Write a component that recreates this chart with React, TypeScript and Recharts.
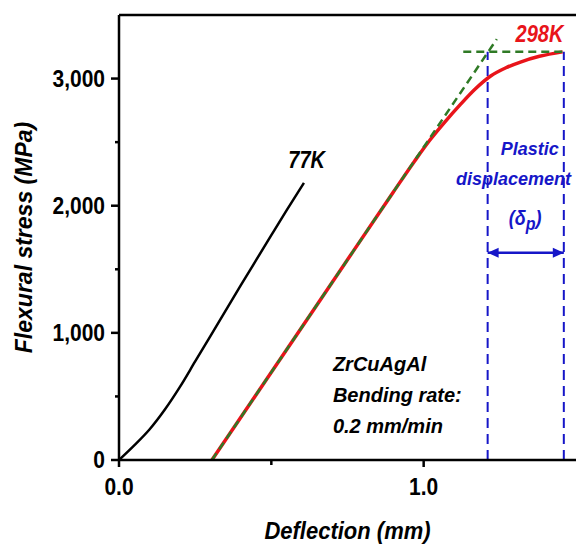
import { LineChart, Line, XAxis, YAxis, ReferenceLine, ReferenceDot } from 'recharts'

const FONT = '"Liberation Sans", Arial, Helvetica, sans-serif'
const RED = '#e8141a'
const GREEN = '#2f7a25'
const BLUE = '#1616c8'

// deflection (mm) vs flexural stress (MPa)
const curve77K = [
  { x: 0, y: 0 },
  { x: 0.05, y: 115 },
  { x: 0.1, y: 240 },
  { x: 0.15, y: 395 },
  { x: 0.2, y: 575 },
  { x: 0.25, y: 775 },
  { x: 0.3, y: 975 },
  { x: 0.35, y: 1175 },
  { x: 0.4, y: 1375 },
  { x: 0.45, y: 1572 },
  { x: 0.5, y: 1768 },
  { x: 0.55, y: 1963 },
  { x: 0.607, y: 2180 },
]

const curve298K = [
  { x: 0.305, y: 0 },
  { x: 0.5, y: 690 },
  { x: 0.7, y: 1398 },
  { x: 0.9, y: 2106 },
  { x: 0.97, y: 2350 },
  { x: 1.02, y: 2515 },
  { x: 1.07, y: 2660 },
  { x: 1.12, y: 2795 },
  { x: 1.17, y: 2920 },
  { x: 1.22, y: 3020 },
  { x: 1.27, y: 3085 },
  { x: 1.32, y: 3132 },
  { x: 1.38, y: 3175 },
  { x: 1.456, y: 3210 },
]

const elasticFit = [
  { x: 0.305, y: 0 },
  { x: 1.24, y: 3310 },
]

const yieldLevel = [
  { x: 1.13, y: 3210 },
  { x: 1.46, y: 3210 },
]

const plasticBounds = [1.21, 1.46]
const plasticTop = 3210

const plasticArrow = [
  { x: 1.21, y: 1630 },
  { x: 1.46, y: 1630 },
]

const X_TICKS = [0, 0.5, 1.0]
const Y_TICKS = [0, 500, 1000, 1500, 2000, 2500, 3000]

// the source figure is slightly stretched vertically
const stretch = (x: number, y: number, s: number) => `translate(${x} ${y}) scale(1 ${s}) translate(${-x} ${-y})`

const XTick = ({ x, y, payload }: any) => {
  const major = Number.isInteger(payload.value)
  return (
    <g>
      <line x1={x} x2={x} y1={y} y2={y + (major ? 7 : 5)} stroke="#000" strokeWidth={2.5} />
      {major && (
        <text x={x} y={y + 35} transform={stretch(x, y + 35, 1.15)} textAnchor="middle" fontFamily={FONT} fontWeight="bold" fontSize={21} fill="#000">
          {payload.value.toFixed(1)}
        </text>
      )}
    </g>
  )
}

const YTick = ({ x, y, payload }: any) => {
  const major = payload.value % 1000 === 0
  return (
    <g>
      <line x1={x} x2={x - (major ? 8 : 4)} y1={y} y2={y} stroke="#000" strokeWidth={2.5} />
      {major && (
        <text x={x - 14} y={y + 8} transform={stretch(x - 14, y + 8, 1.15)} textAnchor="end" fontFamily={FONT} fontWeight="bold" fontSize={21} fill="#000">
          {payload.value.toLocaleString('en-US')}
        </text>
      )}
    </g>
  )
}

const ArrowHead = ({ cx, cy, index }: any) => {
  const dir = index === 0 ? -1 : 1
  return (
    <path
      key={`ah-${index}`}
      d={`M${cx},${cy} L${cx - dir * 11},${cy - 5} L${cx - dir * 11},${cy + 5} Z`}
      fill={BLUE}
    />
  )
}

const note = (lines: string[], color: string, anchor: 'start' | 'middle', size: number, gap: number, s = 1) =>
  ({ cx, cy }: any) => (
    <text x={cx} y={cy} transform={stretch(cx, cy, s)} textAnchor={anchor} fontFamily={FONT} fontWeight="bold" fontStyle="italic" fontSize={size} fill={color}>
      {lines.map((t, i) => (
        <tspan key={i} x={cx} dy={i === 0 ? 0 : gap}>{t}</tspan>
      ))}
    </text>
  )

const DeltaNote = ({ cx, cy }: any) => (
  <text x={cx} y={cy} transform={stretch(cx, cy, 1.1)} textAnchor="middle" fontFamily={FONT} fontWeight="bold" fontStyle="italic" fontSize={18} fill={BLUE}>
    ({'\u03b4'}<tspan dy={5} fontSize={16}>p</tspan><tspan dy={-5}>)</tspan>
  </text>
)

export default function App() {
  return (
    <div style={{ position: 'absolute', left: 0, top: 0, background: '#fff' }}>
      <LineChart width={576} height={545} margin={{ top: 15, right: 0, bottom: 0, left: 0 }}>
        <XAxis
          type="number"
          dataKey="x"
          domain={[0, 1.5]}
          ticks={X_TICKS}
          allowDataOverflow
          height={85}
          tickSize={0}
          tickMargin={0}
          tickLine={false}
          axisLine={{ stroke: '#000', strokeWidth: 2.5 }}
          tick={<XTick />}
          label={{
            content: ({ viewBox }: any) => {
              const cx = viewBox.x + viewBox.width / 2
              const cy = viewBox.y + 79
              return (
                <text
                  x={cx}
                  y={cy}
                  transform={stretch(cx, cy, 1.1)}
                  textAnchor="middle"
                  fontFamily={FONT}
                  fontWeight="bold"
                  fontStyle="italic"
                  fontSize={22}
                  fill="#000"
                >
                  Deflection (mm)
                </text>
              )
            },
          }}
        />
        <YAxis
          type="number"
          domain={[0, 3500]}
          ticks={Y_TICKS}
          allowDataOverflow
          width={119}
          tickSize={0}
          tickMargin={0}
          tickLine={false}
          axisLine={{ stroke: '#000', strokeWidth: 2.5 }}
          tick={<YTick />}
          label={{
            content: ({ viewBox }: any) => {
              const cx = viewBox.x + 32
              const cy = viewBox.y + viewBox.height / 2
              return (
                <text
                  x={cx}
                  y={cy}
                  transform={`rotate(-90 ${cx} ${cy})`}
                  textAnchor="middle"
                  fontFamily={FONT}
                  fontWeight="bold"
                  fontStyle="italic"
                  fontSize={23}
                  fill="#000"
                >
                  Flexural stress (MPa)
                </text>
              )
            },
          }}
        />
        <ReferenceLine y={3500} stroke="#000" strokeWidth={2.5} />

        {plasticBounds.map((bx) => (
          <ReferenceLine
            key={bx}
            segment={[{ x: bx, y: 0 }, { x: bx, y: plasticTop }]}
            stroke={BLUE}
            strokeWidth={2}
            strokeDasharray="10 6"
          />
        ))}

        <Line data={curve298K} dataKey="y" type="monotone" stroke={RED} strokeWidth={3.5} dot={false} isAnimationActive={false} />
        <Line data={elasticFit} dataKey="y" type="linear" stroke={GREEN} strokeWidth={2.5} strokeDasharray="8 5" dot={false} isAnimationActive={false} />
        <Line data={yieldLevel} dataKey="y" type="linear" stroke={GREEN} strokeWidth={2.5} strokeDasharray="8 5" dot={false} isAnimationActive={false} />
        <Line data={curve77K} dataKey="y" type="monotone" stroke="#000" strokeWidth={2.5} dot={false} isAnimationActive={false} />
        <Line data={plasticArrow} dataKey="y" type="linear" stroke={BLUE} strokeWidth={2.5} dot={<ArrowHead />} isAnimationActive={false} />

        <ReferenceDot x={0.616} y={2297} shape={note(['77K'], '#000', 'middle', 20, 0, 1.2)} />
        <ReferenceDot x={1.38} y={3290} shape={note(['298K'], RED, 'middle', 20, 0, 1.2)} />
        <ReferenceDot x={1.348} y={2402} shape={note(['Plastic'], BLUE, 'middle', 18, 0)} />
        <ReferenceDot x={1.295} y={2165} shape={note(['displacement'], BLUE, 'middle', 18, 0)} />
        <ReferenceDot x={1.333} y={1850} shape={<DeltaNote />} />
        <ReferenceDot x={0.702} y={700} shape={note(['ZrCuAgAl', 'Bending rate:', '0.2 mm/min'], '#000', 'start', 20, 31)} />
      </LineChart>
    </div>
  )
}
